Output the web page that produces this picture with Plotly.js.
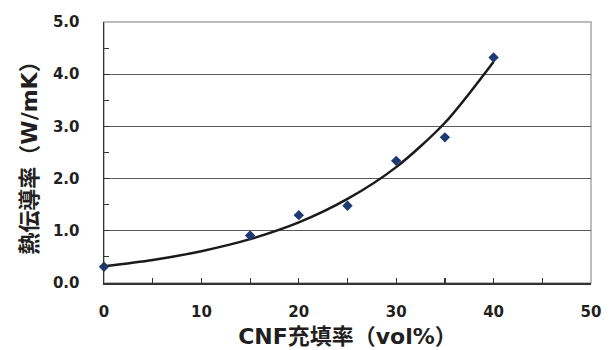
<!DOCTYPE html>
<html>
<head>
<meta charset="utf-8">
<script src="https://cdn.plot.ly/plotly-3.0.1.min.js"></script>
<style>html,body{margin:0;padding:0;background:#fff;}#chart{width:615px;height:350px;}</style>
</head>
<body>
<div id="chart"></div>
<script>
// Measured data points
const fillX = [0, 15, 20, 25, 30, 35, 40];
const conductivity = [0.31, 0.91, 1.30, 1.48, 2.34, 2.79, 4.32];
// Trend line
const trendX = [0, 5, 10, 15, 20, 25, 30, 35, 40];
const trendY = [0.32, 0.44, 0.61, 0.84, 1.16, 1.61, 2.22, 3.07, 4.24];
const xTickVals = [0, 10, 20, 30, 40, 50];
const xTickText = ['0', '10', '20', '30', '40', '50'];
const yTickVals = [0, 1, 2, 3, 4, 5];
const yTickText = ['0.0', '1.0', '2.0', '3.0', '4.0', '5.0'];

const FONT = '"DejaVu Sans", "Noto Sans CJK JP", sans-serif';

const traces = [
  {
    x: trendX, y: trendY, type: 'scatter', mode: 'lines',
    line: {color: '#1a1a1a', width: 2.5, shape: 'spline', smoothing: 0.8},
    hoverinfo: 'skip', showlegend: false
  },
  {
    x: fillX, y: conductivity, type: 'scatter', mode: 'markers',
    marker: {symbol: 'diamond', size: 8, color: '#1f3a73'},
    cliponaxis: false, showlegend: false
  }
];

const layout = {
  width: 615, height: 350,
  margin: {l: 104, r: 24, t: 22, b: 67},
  paper_bgcolor: '#ffffff', plot_bgcolor: '#ffffff',
  font: {family: FONT, color: '#231f20'},
  showlegend: false,
  xaxis: {
    range: [0, 50], tickvals: xTickVals, ticktext: xTickText,
    ticks: 'inside', ticklen: 5, tickcolor: '#333', tickwidth: 1.2,
    minor: {dtick: 5, tick0: 0, ticks: 'inside', ticklen: 5, tickcolor: '#333', showgrid: false},
    showgrid: false, zeroline: false,
    showline: true, linecolor: '#333', linewidth: 1.5,
    tickfont: {family: FONT, size: 15, color: '#231f20', weight: 'bold'},
    ticklabelstandoff: 14,
    title: {text: '<b>CNF充填率（vol%）</b>', font: {family: FONT, size: 22, color: '#231f20'}, standoff: 9},
    fixedrange: true
  },
  yaxis: {
    range: [0, 5], tickvals: yTickVals, ticktext: yTickText,
    ticks: 'inside', ticklen: 5, tickcolor: '#333', tickwidth: 1.2,
    minor: {dtick: 0.5, tick0: 0, ticks: 'inside', ticklen: 5, tickcolor: '#333', showgrid: false},
    showgrid: true, gridcolor: '#5a5a5a', gridwidth: 1.2,
    zeroline: false,
    showline: true, linecolor: '#333', linewidth: 1.5,
    tickfont: {family: FONT, size: 15, color: '#231f20', weight: 'bold'},
    ticklabelstandoff: 20,
    title: {text: '<b>熱伝導率（W/mK）</b>', font: {family: FONT, size: 22, color: '#231f20'}, standoff: 9},
    fixedrange: true
  },
  shapes: [{
    type: 'rect', xref: 'paper', yref: 'paper', x0: 0, x1: 1, y0: 0, y1: 1,
    line: {color: '#a6a6a6', width: 1.5}, layer: 'below'
  }]
};

Plotly.newPlot('chart', traces, layout, {displayModeBar: false, staticPlot: true});
</script>
</body>
</html>
